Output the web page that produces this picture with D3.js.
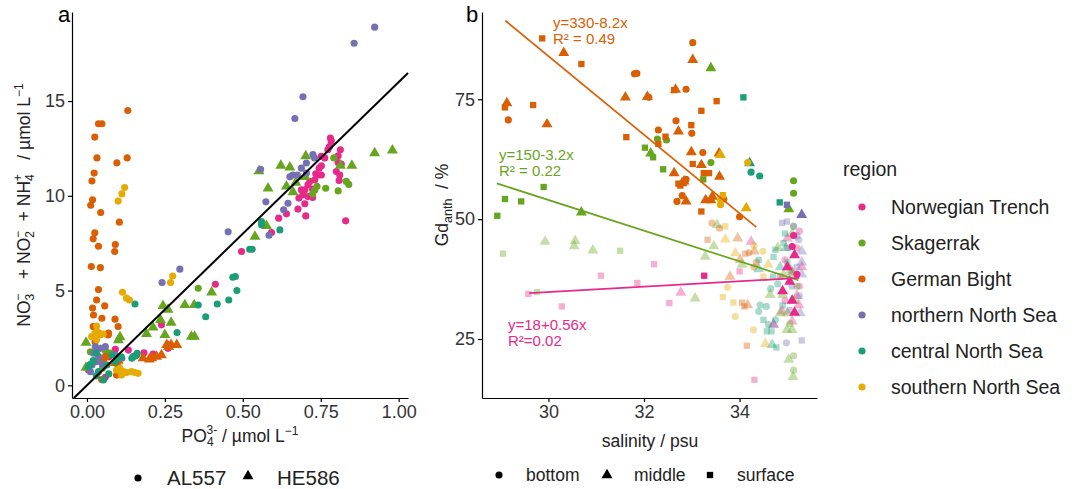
<!DOCTYPE html>
<html lang="en">
<head>
<meta charset="UTF-8">
<title>Nutrients and Gd anomaly</title>
<script src="https://d3js.org/d3.v7.min.js"></script>
<style>
  body { margin: 0; background: #fff; font-family: 'Liberation Sans', Arial, sans-serif; }
  svg text { font-family: 'Liberation Sans', Arial, sans-serif; }
  .tick text { fill: #333; font-size: 18px; }
  .tick line, .domain { stroke: #000; stroke-width: 1.2px; }
  .pre { white-space: pre; }
</style>
</head>
<body>
<svg id="chart" width="1075" height="489"></svg>
<script>
const regions = ["Norwegian Trench", "Skagerrak", "German Bight", "northern North Sea", "central North Sea", "southern North Sea"];
const regionColors = ["#E7298A", "#66A61E", "#D95F02", "#7570B3", "#1B9E77", "#E6AB02"];

// panel a: [PO4, NOx+NH4, cruise] A = AL557 (circle), H = HE586 (triangle)
const aNorwegian = [[0.781,13.05,"A"],[0.784,12.87,"A"],[0.778,12.6,"A"],[0.773,12.43,"A"],[0.813,12.43,"A"],[0.806,12.11,"A"],[0.763,12.0,"A"],[0.752,12.08,"A"],[0.806,11.76,"A"],[0.816,11.67,"A"],[0.8,11.28,"A"],[0.811,11.1,"A"],[0.809,10.81,"A"],[0.752,11.58,"A"],[0.745,11.46,"A"],[0.752,11.1,"A"],[0.742,11.1,"A"],[0.734,11.16,"A"],[0.731,10.85,"A"],[0.715,10.76,"A"],[0.709,10.58,"A"],[0.724,10.35,"A"],[0.699,10.32,"A"],[0.688,10.32,"A"],[0.693,10.05,"A"],[0.709,9.96,"A"],[0.724,9.91,"A"],[0.68,9.88,"A"],[0.699,9.58,"A"],[0.677,9.3,"A"],[0.702,8.94,"A"],[0.64,9.05,"A"],[0.615,8.82,"A"],[0.83,8.68,"A"],[0.592,8.06,"A"],[0.496,7.06,"A"],[0.412,5.33,"A"],[0.239,3.19,"A"],[0.26,1.95,"A"],[0.212,1.65,"A"],[0.183,1.72,"A"],[0.091,1.9,"A"],[0.133,1.86,"A"],[0.021,1.25,"A"],[0.053,0.98,"A"],[0.059,0.42,"A"],[0.005,0.81,"A"],[0.07,1.5,"A"]];
const aSkagerrak = [[0.792,12.0,"A"],[0.766,10.4,"A"],[0.806,10.26,"A"],[0.832,10.76,"A"],[0.84,10.6,"A"],[0.738,10.5,"A"],[0.731,10.3,"A"],[0.724,10.1,"A"],[0.357,5.12,"A"],[0.011,1.77,"A"],[0.075,1.7,"A"],[0.02,1.2,"A"],[0.05,0.9,"A"],[0.06,1.8,"A"],[0.1,1.0,"A"],
  [0.622,11.6,"H"],[0.651,11.5,"H"],[0.702,12.1,"H"],[0.552,11.3,"H"],[0.581,10.4,"H"],[0.64,10.5,"H"],[0.661,10.2,"H"],[0.923,12.25,"H"],[0.98,12.4,"H"],[0.85,11.6,"H"],[0.813,11.6,"H"],[0.576,8.41,"H"],[0.539,7.85,"H"],[0.4,4.91,"H"],[0.344,4.24,"H"],[0.314,4.24,"H"],[0.244,4.19,"H"],[0.26,4.0,"H"],[0.236,3.45,"H"],[0.27,3.31,"H"],[0.212,3.06,"H"],[0.191,2.71,"H"],[0.25,2.66,"H"],[0.335,2.57,"H"],[0.345,2.57,"H"],[0.106,2.54,"H"],[0.101,2.39,"H"],[-0.003,2.25,"H"],[-0.003,0.93,"H"],[0.7,11.0,"H"],[0.67,10.7,"H"]];
const aGerman = [[0.131,14.5,"A"],[0.037,13.8,"A"],[0.048,13.8,"A"],[0.025,13.1,"A"],[0.032,12.0,"A"],[0.096,11.74,"A"],[0.129,12.0,"A"],[0.023,11.2,"A"],[0.016,10.78,"A"],[0.018,9.79,"A"],[0.012,9.5,"A"],[0.044,9.12,"A"],[0.104,8.61,"A"],[0.025,8.05,"A"],[0.020,7.73,"A"],[0.037,7.34,"A"],[0.091,7.43,"A"],[0.089,7.06,"A"],[0.014,6.27,"A"],[0.043,6.21,"A"],[0.037,5.05,"A"],[0.031,4.5,"A"],[0.057,4.19,"A"],[0.018,4.08,"A"],[0.048,3.54,"A"],[0.09,3.49,"A"],[0.1,3.1,"A"],[0.02,3.1,"A"],[0.026,2.3,"A"],[0.068,2.66,"A"],[0.063,1.51,"A"],[0.095,0.54,"A"],[0.059,1.51,"A"],[0.053,1.33,"A"],[0.069,2.75,"A"],[0.037,2.75,"A"],[0.021,3.71,"A"],[0.047,0.3,"A"],
  [0.18,1.43,"H"],[0.2,1.37,"H"],[0.223,1.51,"H"],[0.239,1.6,"H"],[0.256,2.13,"H"],[0.27,2.13,"H"],[0.288,2.13,"H"],[0.208,1.43,"H"],[0.262,2.04,"H"],[0.09,1.18,"H"],[0.1,1.3,"H"]];
const aNorthern = [[0.923,18.9,"A"],[0.857,18.05,"A"],[0.693,15.23,"A"],[0.667,14.08,"A"],[0.557,11.4,"A"],[0.574,9.68,"A"],[0.645,9.61,"A"],[0.631,9.26,"A"],[0.453,8.1,"A"],[0.584,7.92,"A"],[0.725,12.17,"A"],[0.73,12.0,"A"],[0.704,11.73,"A"],[0.688,11.46,"A"],[0.661,11.1,"A"],[0.651,11.0,"A"],[0.675,11.1,"A"],[0.704,11.2,"A"],[0.298,6.13,"A"],[0.241,5.42,"A"],[0.027,2.04,"A"],[0.043,1.95,"A"],[0.059,2.04,"A"],[0.021,1.69,"A"],[0.037,1.51,"A"],[0.016,1.07,"A"],[0.011,0.72,"A"],[0.032,1.25,"A"],[0.112,1.43,"A"],[0.09,1.6,"A"],[0.05,1.1,"A"]];
const aCentral = [[0.56,8.64,"A"],[0.56,8.47,"A"],[0.619,8.2,"A"],[0.522,7.18,"A"],[0.53,7.18,"A"],[0.468,5.7,"A"],[0.476,5.74,"A"],[0.481,5.0,"A"],[0.455,4.5,"A"],[0.418,4.29,"A"],[0.381,3.62,"A"],[0.357,4.24,"A"],[0.289,2.78,"A"],[0.154,4.29,"A"],[0.148,1.51,"A"],[0.161,1.69,"A"],[0.155,1.55,"A"],[0.053,0.28,"A"],[0.005,0.98,"A"],[0.037,0.72,"A"],[0.064,1.07,"A"],[0.08,1.6,"A"],[0.144,1.43,"A"],[0.16,1.6,"A"],[0.091,1.25,"A"],[0.02,1.3,"A"],[0.01,1.1,"A"],[0.07,0.6,"A"],[0.03,0.5,"A"],[0.11,1.5,"A"],[0.03,1.7,"A"]];
const aSouthern = [[0.121,10.44,"A"],[0.112,10.1,"A"],[0.1,9.72,"A"],[0.114,4.91,"A"],[0.127,4.6,"A"],[0.136,4.5,"A"],[0.275,5.77,"A"],[0.268,5.42,"A"],[0.031,3.13,"A"],[0.026,2.75,"A"],[0.042,2.66,"A"],[0.052,2.71,"A"],[0.015,2.57,"A"],[0.031,2.4,"A"],[0.106,0.9,"A"],[0.117,0.72,"A"],[0.127,0.67,"A"],[0.143,0.72,"A"],[0.154,0.67,"A"],[0.164,0.63,"A"],[0.111,0.54,"A"],[0.095,0.8,"A"],[0.032,2.83,"A"],[0.045,2.71,"A"]];
const aSeries = [aNorwegian, aSkagerrak, aGerman, aNorthern, aCentral, aSouthern];
const redfield = 16;

// panel b: [salinity, Gd_anth, depth, opaque] b = bottom, m = middle, s = surface
const bNorwegian = [[35.13,46.6,"b",1],[33.26,38.2,"s",1],[35.1,44.3,"b",1],[35.15,42.5,"m",1],[35.0,40.0,"m",1],[35.2,38.5,"b",1],[35.05,37.0,"m",1],[34.9,35.0,"m",1],[35.1,33.0,"m",1],[35.15,30.5,"m",1],
  [34.24,45.3,"m",0],[34.0,39.1,"s",0],[32.77,34.7,"m",0],[34.31,16.5,"s",0],[34.89,30.75,"m",0],[34.71,28.0,"m",0],[35.1,28.7,"m",0],[35.24,32.1,"m",0],[32.21,40.6,"s",0],[31.1,38.2,"s",0],[31.86,36.7,"s",0],[29.58,34.4,"s",0],[30.28,31.8,"s",0],[32.53,32.5,"s",0],[35.25,47.5,"b",0],[35.0,46,"m",0],[35.2,44,"b",0],[35.3,40,"m",0],[34.95,41.5,"b",0],[35.1,39,"m",0],[34.85,38,"b",0],[35.25,36,"b",0],[34.95,33,"b",0],[35.2,34,"m",0]];
const bSkagerrak = [[33.4,81.5,"m",1],[32.02,64.9,"s",1],[32.14,63.75,"m",1],[32.19,62.9,"s",1],[32.28,66.7,"b",1],[32.47,66.5,"b",1],[32.4,60.4,"s",1],[33.4,61.8,"b",1],[33.24,58.3,"s",1],[28.93,50.7,"s",1],[29.09,54.2,"s",1],[29.43,53.7,"s",1],[29.9,56.7,"s",1],[30.69,51.4,"m",1],[35.13,58.0,"b",1],[35.13,55.4,"b",1],[35.03,52.1,"m",1],
  [33.53,48.8,"m",0],[33.46,44.4,"m",0],[33.28,42.2,"m",0],[34.05,40.5,"m",0],[33.07,33.5,"m",0],[29.05,42.8,"s",0],[29.93,45.3,"m",0],[30.54,44.4,"m",0],[30.56,45.5,"m",0],[30.93,43.5,"m",0],[31.5,43.4,"s",0],[29.76,34.8,"s",0],[35.03,20.7,"m",0],[35.13,21.5,"b",0],[35.13,18.5,"b",0],[35.12,17.1,"m",0],[34.64,34.2,"m",0],[34.9,34.2,"m",0],[34.85,30.4,"m",0],[35.0,30.4,"m",0],[34.99,26.9,"m",0],[35.1,26.9,"m",0],[35.05,28.2,"b",0],[35.1,38.5,"m",0],[35.07,39.4,"m",0],[34.92,38.4,"m",0],[35.13,48.5,"b",0],[35.1,47.0,"m",0],[34.8,44,"m",0],[35.2,36,"b",0],[35.15,33,"m",0]];
const bGerman = [[29.87,87.7,"s",1],[30.32,84.7,"m",1],[30.69,82.35,"s",1],[33.02,86.8,"b",1],[33.02,83.2,"m",1],[31.8,80.3,"b",1],[31.85,80.4,"b",1],[31.61,75.4,"m",1],[32.07,75.5,"m",1],[32.1,75.4,"b",1],[32.63,76.9,"s",1],[32.66,77.0,"m",1],[32.88,77.1,"b",1],[33.52,74.6,"s",1],[33.2,72.6,"s",1],[29.13,74.2,"m",1],[29.09,73.3,"s",1],[29.68,73.8,"s",1],[29.16,70.7,"b",1],[29.97,69.8,"m",1],[32.67,70.5,"b",1],[32.99,69.6,"s",1],[32.72,68.3,"m",1],[33.0,67.9,"b",1],[31.63,67.1,"s",1],[32.3,68.6,"b",1],[32.45,67.2,"s",1],[32.3,65.7,"s",1],[32.99,64.0,"m",1],[33.23,63.9,"b",1],[33.02,61.5,"s",1],[33.2,61.3,"m",1],[33.57,63.75,"m",1],[33.25,59.6,"s",1],[33.36,59.6,"s",1],[33.58,58.9,"m",1],[32.63,59.6,"m",1],[32.72,57.4,"s",1],[32.8,57.5,"m",1],[32.88,58.3,"b",1],[32.76,57.0,"s",1],[32.84,57.9,"m",1],[32.8,54.9,"b",1],[32.69,53.7,"b",1],[32.88,53.7,"m",1],[33.29,54.0,"m",1],[33.43,54.7,"m",1],[33.4,54.0,"m",1],[33.67,54.2,"b",1],[33.2,51.6,"s",1],[34.0,50.5,"b",1],
  [33.42,49.2,"b",0],[33.58,48.1,"b",0],[33.33,45.7,"s",0],[33.96,46.0,"m",0],[34.12,42.8,"s",0],[34.31,43.3,"m",0],[34.01,41.5,"m",0],[33.8,38.0,"m",0],[34.05,32.6,"s",0],[34.1,31.8,"s",0],[34.17,32.1,"m",0],[34.15,23.6,"s",0],[34.2,43.0,"b",0],[34.35,41.0,"b",0],[34.3,40.0,"b",0]];
const bNorthern = [[34.99,53.0,"s",1],[35.3,50.9,"m",1],
  [34.89,49.2,"s",0],[34.99,49.5,"s",0],[35.13,48.5,"b",0],[35.3,43.3,"m",0],[35.24,45.7,"b",0],[35.2,46.5,"b",0],[34.98,24.2,"b",0],[35.3,24.7,"s",0],[35.27,30.4,"m",0],[34.71,28.0,"m",0],[35.2,40,"b",0],[35.3,38.5,"m",0],[35.1,36,"b",0],[35.25,34,"b",0],[35.0,44,"s",0],[35.3,41,"m",0],[35.05,31,"b",0]];
const bCentral = [[34.08,75.4,"s",1],[34.21,61.7,"m",1],[34.24,59.8,"b",1],[34.42,59.0,"b",1],[34.84,53.5,"s",1],
  [34.4,41.5,"s",0],[34.75,43.6,"s",0],[34.71,42.1,"s",0],[34.4,39.6,"m",0],[34.68,23.8,"m",0],[34.77,23.25,"s",0],[34.4,30.75,"b",0],[34.56,31.8,"b",0],[34.43,32.1,"b",0],[34.5,29.0,"s",0],[34.57,26.6,"s",0],[34.67,26.6,"s",0],[34.92,45.0,"s",0],[34.97,44,"m",0],[34.8,36.5,"b",0],[34.65,35.5,"b",0],[34.9,32,"s",0],[34.75,29,"b",0],[34.6,28,"b",0],[35.0,41,"s",0],[34.85,40,"m",0],[34.7,38,"s",0],[34.95,47,"s",0]];
const bSouthern = [[33.6,63.4,"m",1],[34.17,61.8,"b",1],[33.6,54.2,"s",1],[33.6,53.0,"b",1],[34.14,52.3,"m",1],[33.65,55.0,"s",1],
  [33.7,48.5,"s",0],[33.7,45.8,"m",0],[33.91,42.9,"m",0],[34.49,43.3,"b",0],[34.5,38.0,"s",0],[33.75,35.8,"b",0],[33.65,33.75,"s",0],[33.87,32.6,"s",0],[33.91,29.7,"b",0],[34.29,26.9,"b",0],[34.54,24.0,"m",0],[34.3,44.5,"b",0],[34.6,40.5,"m",0]];
const bSeries = [bNorwegian, bSkagerrak, bGerman, bNorthern, bCentral, bSouthern];

// regression fits in panel b: intercept, slope, salinity span
const fitRegion = ["German Bight", "Skagerrak", "Norwegian Trench"];
const fitIntercept = [330, 150, 18];
const fitSlope = [-8.2, -3.2, 0.56];
const fitFrom = [29.1, 28.92, 29.6];
const fitTo = [34.35, 35.23, 35.25];

const aTicksX = [0, 0.25, 0.5, 0.75, 1];
const aTicksY = [0, 5, 10, 15];
const bTicksX = [30, 32, 34];
const bTicksY = [25, 50, 75];

const svg = d3.select("#chart");
const color = d3.scaleOrdinal().domain(regions).range(regionColors);

const xa = d3.scaleLinear().domain([-0.048, 1.03]).range([72, 408]);
const ya = d3.scaleLinear().domain([-0.67, 19.7]).range([398, 12]);
const xb = d3.scaleLinear().domain([28.61, 35.62]).range([482, 817]);
const yb = d3.scaleLinear().domain([12.7, 93.2]).range([398, 12]);

const symCircle = d3.symbol().type(d3.symbolCircle).size(40);
const symTri = d3.symbol().type(d3.symbolTriangle).size(52);
const symSq = d3.symbol().type(d3.symbolSquare).size(40);
const depthSym = { b: symCircle, m: symTri, s: symSq };

// ---- panel a ----
const ga = svg.append("g");
aSeries.forEach((ser, i) => {
  ga.selectAll(null).data(ser).join("path")
    .attr("transform", d => `translate(${xa(d[0])},${ya(d[1])})`)
    .attr("d", d => d[2] === "A" ? symCircle() : symTri())
    .attr("fill", regionColors[i]);
});
const x0 = ya.domain()[0] / redfield;
ga.append("line")
  .attr("x1", xa(x0)).attr("y1", ya(x0 * redfield))
  .attr("x2", xa(1.03)).attr("y2", ya(1.03 * redfield))
  .attr("stroke", "#000").attr("stroke-width", 2);

ga.append("g").attr("transform", "translate(0,398)")
  .call(d3.axisBottom(xa).tickValues(aTicksX).tickFormat(d3.format(".2f")).tickSize(4).tickSizeOuter(0));
ga.append("g").attr("transform", "translate(72,0)")
  .call(d3.axisLeft(ya).tickValues(aTicksY).tickSize(4).tickSizeOuter(0));

// ---- panel b ----
const gb = svg.append("g");
bSeries.forEach((ser, i) => {
  gb.selectAll(null).data(ser.filter(d => !d[3])).join("path")
    .attr("transform", d => `translate(${xb(d[0])},${yb(d[1])})`)
    .attr("d", d => depthSym[d[2]]())
    .attr("fill", regionColors[i]).attr("fill-opacity", 0.38);
});
bSeries.forEach((ser, i) => {
  gb.selectAll(null).data(ser.filter(d => d[3])).join("path")
    .attr("transform", d => `translate(${xb(d[0])},${yb(d[1])})`)
    .attr("d", d => depthSym[d[2]]())
    .attr("fill", regionColors[i]);
});
fitRegion.forEach((r, i) => {
  gb.append("line")
    .attr("x1", xb(fitFrom[i])).attr("y1", yb(fitIntercept[i] + fitSlope[i] * fitFrom[i]))
    .attr("x2", xb(fitTo[i])).attr("y2", yb(fitIntercept[i] + fitSlope[i] * fitTo[i]))
    .attr("stroke", color(r)).attr("stroke-width", 1.7);
});

gb.append("g").attr("transform", "translate(0,398)")
  .call(d3.axisBottom(xb).tickValues(bTicksX).tickFormat(d3.format("d")).tickSize(4).tickSizeOuter(0));
gb.append("g").attr("transform", "translate(482,0)")
  .call(d3.axisLeft(yb).tickValues(bTicksY).tickSize(4).tickSizeOuter(0));

// equation labels
const eq = [
  { r: "German Bight", x: 553, y: 28, l1: "y=330-8.2x", l2: "R² = 0.49" },
  { r: "Skagerrak", x: 499, y: 160, l1: "y=150-3.2x", l2: "R² = 0.22" },
  { r: "Norwegian Trench", x: 508, y: 330, l1: "y=18+0.56x", l2: "R²=0.02" }
];
eq.forEach(e => {
  const t = svg.append("text").attr("x", e.x).attr("y", e.y).attr("font-size", 15).attr("fill", color(e.r));
  t.append("tspan").attr("x", e.x).text(e.l1);
  t.append("tspan").attr("x", e.x).attr("dy", 16).text(e.l2);
});

// panel tags
svg.append("text").attr("x", 58).attr("y", 22).attr("font-size", 22).text("a");
svg.append("text").attr("x", 466).attr("y", 22).attr("font-size", 22).text("b");

// axis titles
const ta = svg.append("text").attr("class", "pre").attr("transform", "translate(30,205) rotate(-90)")
  .attr("text-anchor", "middle").attr("font-size", 17.5).attr("fill", "#222");
[["NO", "3", "−", "   + NO"], ["", "2", "−", "  + NH"], ["", "4", "+", "   / µmol L"]].forEach(p => {
  if (p[0]) ta.append("tspan").text(p[0]);
  ta.append("tspan").attr("font-size", 12).attr("dy", 4).text(p[1]);
  ta.append("tspan").attr("font-size", 12).attr("dx", -7).attr("dy", -12).text(p[2]);
  ta.append("tspan").attr("dy", 8).text(p[3]);
});
ta.append("tspan").attr("font-size", 12).attr("dy", -7).text("−1");

const txa = svg.append("text").attr("class", "pre").attr("x", 240).attr("y", 442).attr("text-anchor", "middle").attr("font-size", 17.5).attr("fill", "#222");
txa.append("tspan").text("PO");
txa.append("tspan").attr("font-size", 12).attr("dy", 4).text("4");
txa.append("tspan").attr("font-size", 12).attr("dx", -7).attr("dy", -12).text("3-");
txa.append("tspan").attr("dy", 8).text(" / µmol L");
txa.append("tspan").attr("font-size", 12).attr("dy", -7).text("−1");

svg.append("text").attr("x", 650).attr("y", 447).attr("text-anchor", "middle").attr("font-size", 17.5).attr("fill", "#222").text("salinity / psu");

const tyb = svg.append("text").attr("class", "pre").attr("transform", "translate(448,205) rotate(-90)")
  .attr("text-anchor", "middle").attr("font-size", 17.5).attr("fill", "#222");
tyb.append("tspan").text("Gd");
tyb.append("tspan").attr("font-size", 12.5).attr("dy", 4).text("anth");
tyb.append("tspan").attr("dy", -4).text("  / %");

// region legend
svg.append("text").attr("x", 843).attr("y", 176).attr("font-size", 19.5).attr("fill", "#222").text("region");
regions.forEach((r, i) => {
  const y = 207 + i * 36;
  svg.append("circle").attr("cx", 862).attr("cy", y).attr("r", 3.6).attr("fill", regionColors[i]);
  svg.append("text").attr("x", 891).attr("y", y + 7).attr("font-size", 19.5).attr("fill", "#222").text(r);
});

// cruise legend (panel a)
const cruises = ["AL557", "HE586"];
const cruiseX = [138, 248];
cruises.forEach((c, i) => {
  svg.append("path").attr("transform", `translate(${cruiseX[i]},${i ? 476 : 478})`)
    .attr("d", i ? symTri() : symCircle()).attr("fill", "#000");
  svg.append("text").attr("x", cruiseX[i] + 29).attr("y", 485).attr("font-size", 20.5).attr("fill", "#222").text(c);
});

// depth legend (panel b)
const depths = ["bottom", "middle", "surface"];
const depthKey = ["b", "m", "s"];
const depthX = [499, 607, 710];
depths.forEach((d, i) => {
  svg.append("path").attr("transform", `translate(${depthX[i]},${475})`)
    .attr("d", depthSym[depthKey[i]]()).attr("fill", "#000");
  svg.append("text").attr("x", depthX[i] + 27).attr("y", 481).attr("font-size", 17.5).attr("fill", "#222").text(d);
});
</script>
</body>
</html>
